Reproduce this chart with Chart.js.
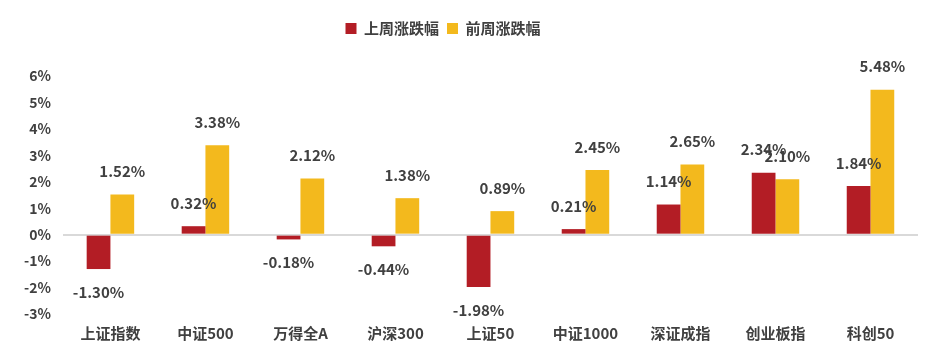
<!DOCTYPE html>
<html>
<head>
<meta charset="utf-8">
<script src="https://cdn.jsdelivr.net/npm/chart.js@4/dist/chart.umd.min.js"></script>
<style>
  html, body { margin: 0; padding: 0; background: #fff; }
  #wrap { width: 934px; height: 364px; }
</style>
</head>
<body>
<div id="wrap"><canvas id="myChart"></canvas></div>
<script>
// 指数周涨跌幅
const categories = ['上证指数', '中证500', '万得全A', '沪深300', '上证50', '中证1000', '深证成指', '创业板指', '科创50'];
const lastWeek = [-1.30, 0.32, -0.18, -0.44, -1.98, 0.21, 1.14, 2.34, 1.84];
const prevWeek = [1.52, 3.38, 2.12, 1.38, 0.89, 2.45, 2.65, 2.10, 5.48];
const yTicks = [-3, -2, -1, 0, 1, 2, 3, 4, 5, 6];

const FONT = '"Noto Sans CJK SC", "Noto Sans", sans-serif';
const TEXT = '#404040';

// labels drawn above/below each bar
const valueLabels = {
    id: 'valueLabels',
    afterDatasetsDraw(chart) {
        const ctx = chart.ctx;
        ctx.save();
        ctx.font = 'bold 15px ' + FONT;
        ctx.fillStyle = TEXT;
        ctx.textAlign = 'center';
        ctx.textBaseline = 'middle';
        chart.data.datasets.forEach((ds, i) => {
            chart.getDatasetMeta(i).data.forEach((bar, j) => {
                const v = ds.data[j];
                const y = v >= 0 ? bar.y - 23 : bar.y + 23;
                ctx.fillText(v.toFixed(2) + '%', bar.x, y);
            });
        });
        ctx.restore();
    }
};

// extra room under the legend, and legend sits a bit left of center
const legendGap = {
    id: 'legendGap',
    beforeInit(chart) {
        const fit = chart.legend.fit;
        chart.legend.fit = function () {
            fit.bind(chart.legend)();
            this.height += 30;
        };
    },
    afterLayout(chart) {
        chart.legend.left -= 22;
        chart.legend.right -= 22;
    }
};

const ctx = document.getElementById('myChart');
new Chart(ctx, {
    type: 'bar',
    data: {
        labels: categories,
        datasets: [
            {
                label: '上周涨跌幅',
                data: lastWeek,
                backgroundColor: '#B31D25',
                categoryPercentage: 0.5,
                barPercentage: 1.0
            },
            {
                label: '前周涨跌幅',
                data: prevWeek,
                backgroundColor: '#F3B91D',
                categoryPercentage: 0.5,
                barPercentage: 1.0
            }
        ]
    },
    options: {
        responsive: true,
        maintainAspectRatio: false,
        animation: false,
        layout: { padding: { left: 12, right: 16, top: 13, bottom: 20 } },
        plugins: {
            legend: {
                display: true,
                position: 'top',
                labels: {
                    boxWidth: 11,
                    boxHeight: 11,
                    padding: 8,
                    color: TEXT,
                    font: { family: FONT, size: 15, weight: 'bold' }
                }
            },
            tooltip: { enabled: false }
        },
        scales: {
            x: {
                grid: { display: false },
                border: { display: false },
                ticks: {
                    color: TEXT,
                    padding: 2,
                    font: { family: FONT, size: 15, weight: 'bold' }
                }
            },
            y: {
                min: yTicks[0],
                max: yTicks[yTicks.length - 1],
                afterBuildTicks: axis => { axis.ticks = yTicks.map(v => ({ value: v })); },
                border: { display: false },
                grid: {
                    drawTicks: false,
                    lineWidth: 2,
                    color: c => c.tick && c.tick.value === 0 ? '#d9d9d9' : 'rgba(0,0,0,0)'
                },
                ticks: {
                    color: TEXT,
                    padding: 12,
                    font: { family: FONT, size: 14, weight: 'bold' },
                    callback: v => v + '%'
                }
            }
        }
    },
    plugins: [valueLabels, legendGap]
});
</script>
</body>
</html>
